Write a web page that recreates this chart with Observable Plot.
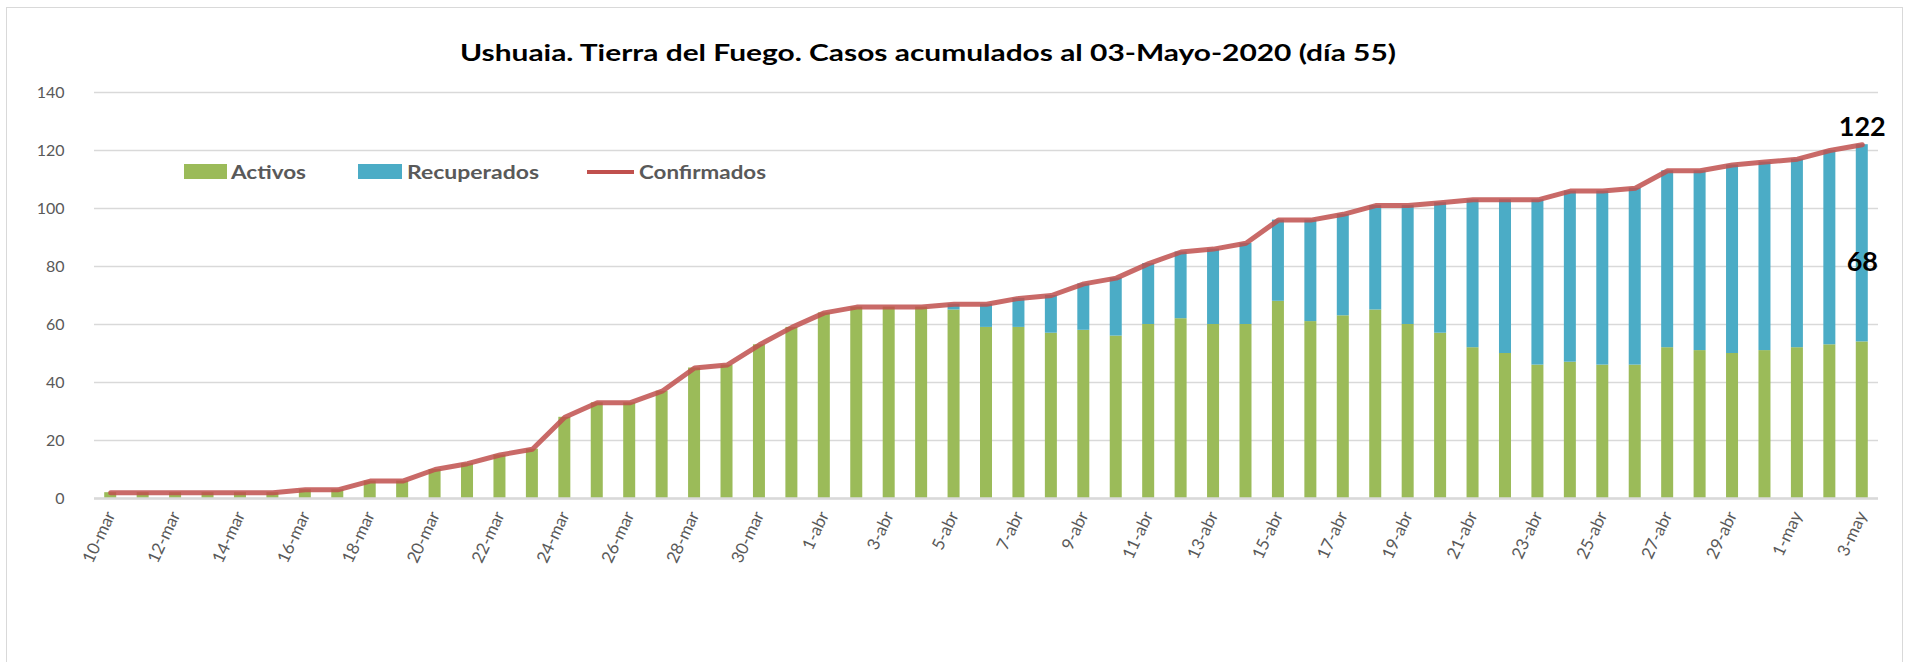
<!DOCTYPE html>
<html><head><meta charset="utf-8">
<script src="https://cdn.jsdelivr.net/npm/d3@7"></script>
<script src="https://cdn.jsdelivr.net/npm/@observablehq/plot@0.6"></script>
<style>
html,body{margin:0;padding:0;background:#fff;}
#chart{position:relative;width:1912px;height:662px;overflow:hidden;font-family:Lato,"Open Sans",sans-serif;background:#fff;}
#frame{position:absolute;left:6px;top:7px;width:1897px;height:720px;border:1.5px solid #d9d9d9;box-sizing:border-box;}
#plot{position:absolute;left:0;top:0;}
.lbl{position:absolute;white-space:nowrap;line-height:1;transform-origin:0 50%;}
.sw{position:absolute;}
</style></head><body>
<div id="chart"><div id="frame"></div><div id="plot"></div></div>
<script>
// ---- data ----
const fechas = ["10-mar","11-mar","12-mar","13-mar","14-mar","15-mar","16-mar","17-mar","18-mar","19-mar",
  "20-mar","21-mar","22-mar","23-mar","24-mar","25-mar","26-mar","27-mar","28-mar","29-mar","30-mar","31-mar",
  "1-abr","2-abr","3-abr","4-abr","5-abr","6-abr","7-abr","8-abr","9-abr","10-abr","11-abr","12-abr","13-abr",
  "14-abr","15-abr","16-abr","17-abr","18-abr","19-abr","20-abr","21-abr","22-abr","23-abr","24-abr","25-abr",
  "26-abr","27-abr","28-abr","29-abr","30-abr","1-may","2-may","3-may"];
const etiquetasX = ["10-mar","12-mar","14-mar","16-mar","18-mar","20-mar","22-mar","24-mar","26-mar","28-mar","30-mar",
  "1-abr","3-abr","5-abr","7-abr","9-abr","11-abr","13-abr","15-abr","17-abr","19-abr","21-abr","23-abr","25-abr",
  "27-abr","29-abr","1-may","3-may"];
const activos = [2,2,2,2,2,2,3,3,6,6,10,12,15,17,28,33,33,37,45,46,53,59,64,66,66,66,65,59,59,57,
  58,56,60,62,60,60,68,61,63,65,60,57,52,50,46,47,46,46,52,51,50,51,52,53,54];
const recuperados = [0,0,0,0,0,0,0,0,0,0,0,0,0,0,0,0,0,0,0,0,0,0,0,0,0,0,2,8,10,13,
  16,20,21,23,26,28,28,35,35,36,41,45,51,53,57,59,60,61,61,62,65,65,65,67,68];
const confirmados = [2,2,2,2,2,2,3,3,6,6,10,12,15,17,28,33,33,37,45,46,53,59,64,66,66,66,67,67,69,70,
  74,76,81,85,86,88,96,96,98,101,101,102,103,103,103,106,106,107,113,113,115,116,117,120,122];
const ticksY = [0,20,40,60,80,100,120,140];
const series = ["Activos","Recuperados","Confirmados"];
const colores = ["#9bbb59","#4bacc6","#c0504d"];
const titulo = "Ushuaia. Tierra del Fuego. Casos acumulados al 03-Mayo-2020 (día 55)";

// ---- tables ----
const barras = [];
fechas.forEach((f,i)=>{
  barras.push({fecha:f, serie:series[0], valor:activos[i]});
  barras.push({fecha:f, serie:series[1], valor:recuperados[i]});
});
const linea = fechas.map((f,i)=>({fecha:f, valor:confirmados[i]}));
const n = fechas.length - 1;
const etiquetaTotal = [{fecha:fechas[n], valor:confirmados[n], txt:String(confirmados[n])}];
const etiquetaRec = [{fecha:fechas[n], valor:activos[n] + recuperados[n]/2, txt:String(recuperados[n])}];

const font = "Lato, 'Open Sans', sans-serif";
const chart = Plot.plot({
  width:1912, height:662,
  marginLeft:94, marginRight:34, marginTop:92, marginBottom:164,
  style:{fontFamily:font, fontSize:"16px", color:"#595959", background:"transparent", overflow:"visible"},
  x:{domain:fechas, paddingInner:0.63, paddingOuter:0.315, round:false, axis:null},
  y:{domain:[0,140], axis:null},
  color:{domain:series.slice(0,2), range:colores.slice(0,2)},
  marks:[
    Plot.gridY(ticksY, {stroke:"#d9d9d9", strokeOpacity:1, strokeWidth:1.5}),
    Plot.barY(barras, {x:"fecha", y:"valor", fill:"serie"}),
    Plot.ruleY([0], {stroke:"#d9d9d9", strokeWidth:2.5}),
    Plot.lineY(linea, {x:"fecha", y:"valor", stroke:colores[2], strokeWidth:5, strokeOpacity:0.85, strokeLinejoin:"round"}),
    Plot.axisY(ticksY, {tickSize:0, tickPadding:30, label:null, fontSize:16, fill:"#595959"}),
    Plot.axisX(etiquetasX, {tickSize:0, tickPadding:14, tickRotate:-65, label:null, fontSize:17, fill:"#595959", ariaLabel:"etiquetas-x"}),
    Plot.text(etiquetaTotal, {x:"fecha", y:"valor", text:"txt", dy:-17, fontSize:27, fontWeight:"bold", fill:"#000"}),
    Plot.text(etiquetaRec, {x:"fecha", y:"valor", text:"txt", dy:19, fontSize:27, fontWeight:"bold", fill:"#000"})
  ]
});
document.getElementById("plot").appendChild(chart);

// stretch rotated x labels vertically, like the reference
chart.querySelectorAll('g[aria-label="etiquetas-x"] text, g[aria-label="x-axis tick label"] text').forEach(t=>{
  const tr = t.getAttribute("transform") || "";
  if (tr.includes("rotate(")) t.setAttribute("transform", tr.replace("rotate(", "scale(1,1.35) rotate("));
});

// ---- HTML title & legend ----
const root = document.getElementById("chart");
function addText(str, left, width, cy, size, weight, color){
  const s = document.createElement("span");
  s.className = "lbl";
  s.textContent = str;
  s.style.fontSize = size + "px";
  s.style.fontWeight = weight;
  s.style.color = color;
  s.style.left = left + "px";
  s.style.top = (cy - 0.527*size) + "px";
  root.appendChild(s);
  const w = s.getBoundingClientRect().width;
  s.style.transform = "scaleX(" + (width / w) + ")";
  return s;
}
function addSwatch(left, top, w, h, color){
  const d = document.createElement("div");
  d.className = "sw";
  Object.assign(d.style, {left:left+"px", top:top+"px", width:w+"px", height:h+"px", background:color});
  root.appendChild(d);
}
addText(titulo, 460, 936, 53.3, 23, "bold", "#000");
addSwatch(184, 164, 43, 15, colores[0]);
addText(series[0], 231, 75, 172.3, 18.5, "bold", "#595959");
addSwatch(358, 164, 44, 15, colores[1]);
addText(series[1], 407, 132, 172.3, 18.5, "bold", "#595959");
addSwatch(587, 170, 47, 4, colores[2]);
addText(series[2], 639, 127, 172.3, 18.5, "bold", "#595959");
</script>
</body></html>
